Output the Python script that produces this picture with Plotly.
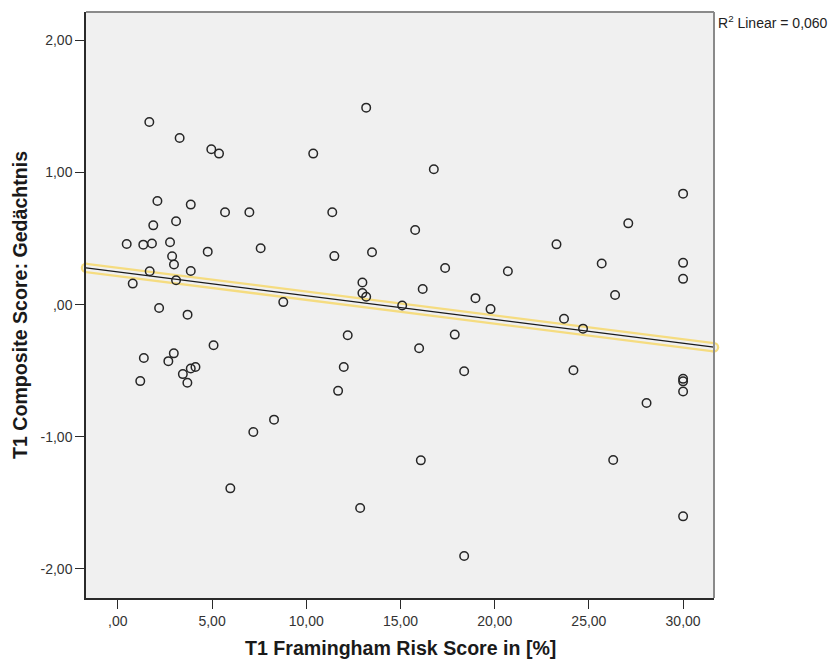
import numpy as np
import plotly.graph_objects as go

# Data (x: Framingham risk score %, y: composite score)
risk_score = [1.67, 3.28, 4.96, 5.37, 2.10, 3.87, 1.88, 3.09, 5.69, 6.98,
              0.47, 1.35, 1.81, 2.77, 4.77, 7.58, 2.88, 2.98, 1.69, 3.87,
              3.09, 0.79, 2.19, 3.70, 8.78, 5.08, 1.38, 2.97, 1.19, 2.68,
              3.45, 3.69, 3.87, 4.12, 7.19, 8.29, 5.97,
              13.18, 10.37, 16.77, 11.38, 15.78, 11.49, 13.49, 17.37, 20.70, 23.28,
              12.98, 12.98, 13.18, 16.18, 18.98, 19.78, 15.09,
              12.20, 17.88, 15.99, 11.99, 18.38, 11.69, 16.08, 12.86, 18.38,
              30.0, 27.09, 25.68, 30.0, 30.0, 26.39, 23.68, 24.69, 24.18,
              30.0, 30.0, 30.0, 28.06, 26.29, 30.0]
memory_score = [1.382, 1.261, 1.176, 1.143, 0.784, 0.757, 0.600, 0.631, 0.699, 0.699,
                0.459, 0.454, 0.462, 0.472, 0.401, 0.426, 0.366, 0.303, 0.252, 0.254,
                0.184, 0.159, -0.026, -0.076, 0.019, -0.308, -0.404, -0.369, -0.579, -0.428,
                -0.526, -0.592, -0.484, -0.472, -0.964, -0.871, -1.391,
                1.491, 1.143, 1.024, 0.699, 0.565, 0.367, 0.396, 0.277, 0.252, 0.456,
                0.167, 0.087, 0.059, 0.118, 0.049, -0.034, -0.007,
                -0.232, -0.227, -0.331, -0.472, -0.505, -0.653, -1.179, -1.540, -1.903,
                0.840, 0.615, 0.311, 0.316, 0.195, 0.073, -0.107, -0.182, -0.497,
                -0.562, -0.581, -0.658, -0.745, -1.176, -1.603]

x_tickvals = [0, 5, 10, 15, 20, 25, 30]
x_ticktext = [",00", "5,00", "10,00", "15,00", "20,00", "25,00", "30,00"]
y_tickvals = [2, 1, 0, -1, -2]
y_ticktext = ["2,00", "1,00", ",00", "-1,00", "-2,00"]
r2_label = "R<sup>2</sup> Linear = 0,060"

x_range = [-1.69, 31.64]
y_range = [-2.221, 2.215]

# Linear fit line across the full x range
slope, intercept = np.polyfit(risk_score, memory_score, 1)
fit_x = np.array(x_range)
fit_y = intercept + slope * fit_x

BG = "#f0f0f0"
YELLOW = "#f5dc80"
FONT = "Liberation Sans, Arial, sans-serif"

fig = go.Figure()
# yellow halo
fig.add_trace(go.Scatter(x=fit_x, y=fit_y, mode="lines+markers",
                         line=dict(color=YELLOW, width=10.5),
                         marker=dict(color=YELLOW, size=10.5, line=dict(width=0)),
                         cliponaxis=False, hoverinfo="skip", showlegend=False))
fig.add_trace(go.Scatter(x=fit_x, y=fit_y, mode="lines+markers",
                         line=dict(color=BG, width=6),
                         marker=dict(color=BG, size=6, line=dict(width=0)),
                         cliponaxis=False, hoverinfo="skip", showlegend=False))
fig.add_trace(go.Scatter(x=fit_x, y=fit_y, mode="lines",
                         line=dict(color="#1a1a1a", width=1.3),
                         hoverinfo="skip", showlegend=False))
# scatter points
fig.add_trace(go.Scatter(x=risk_score, y=memory_score, mode="markers",
                         marker=dict(symbol="circle-open", size=8.5, color="#262626",
                                     line=dict(width=1.5, color="#262626")),
                         showlegend=False))

fig.update_layout(
    width=830, height=661,
    margin=dict(l=86, r=116, t=12, b=63),
    paper_bgcolor="white", plot_bgcolor=BG,
    font=dict(family=FONT, size=14, color="#333333"),
    showlegend=False,
    xaxis=dict(range=x_range, tickvals=x_tickvals, ticktext=x_ticktext,
               showgrid=False, zeroline=False, showline=True, linecolor="#2a2a2a",
               linewidth=1.5, ticks="outside", ticklen=9, tickwidth=1.3,
               tickcolor="#2a2a2a", tickfont=dict(size=14, color="#333333")),
    yaxis=dict(range=y_range, tickvals=y_tickvals, ticktext=y_ticktext,
               showgrid=False, zeroline=False, showline=True, linecolor="#2a2a2a",
               linewidth=1.5, ticks="outside", ticklen=9, tickwidth=1.3,
               tickcolor="#2a2a2a", tickfont=dict(size=14, color="#333333")),
    shapes=[
        dict(type="line", xref="paper", yref="paper", x0=0, x1=1, y0=1, y1=1,
             line=dict(color="#8a8a8a", width=2)),
        dict(type="line", xref="paper", yref="paper", x0=1, x1=1, y0=0, y1=1,
             line=dict(color="#8a8a8a", width=2)),
    ],
    annotations=[
        dict(text="T1 Framingham Risk Score in [%]", xref="paper", yref="paper",
             x=0.5013, y=-0.0853, xanchor="center", yanchor="middle", showarrow=False,
             font=dict(family=FONT, size=19.6, color="#1a1a1a", weight="bold")),
        dict(text="T1 Composite Score: Gedächtnis", xref="paper", yref="paper",
             x=-0.1051, y=0.5, xanchor="center", yanchor="middle", textangle=-90,
             showarrow=False,
             font=dict(family=FONT, size=19.6, color="#1a1a1a", weight="bold")),
        dict(text=r2_label, xref="paper", yref="paper", x=1.0032, y=0.983,
             xanchor="left", yanchor="middle", showarrow=False,
             font=dict(family=FONT, size=14, color="#222222")),
    ],
)

fig.write_html("out.html", config={"displayModeBar": False},
               post_script="document.body.style.margin='0';document.body.style.overflow='hidden';")
